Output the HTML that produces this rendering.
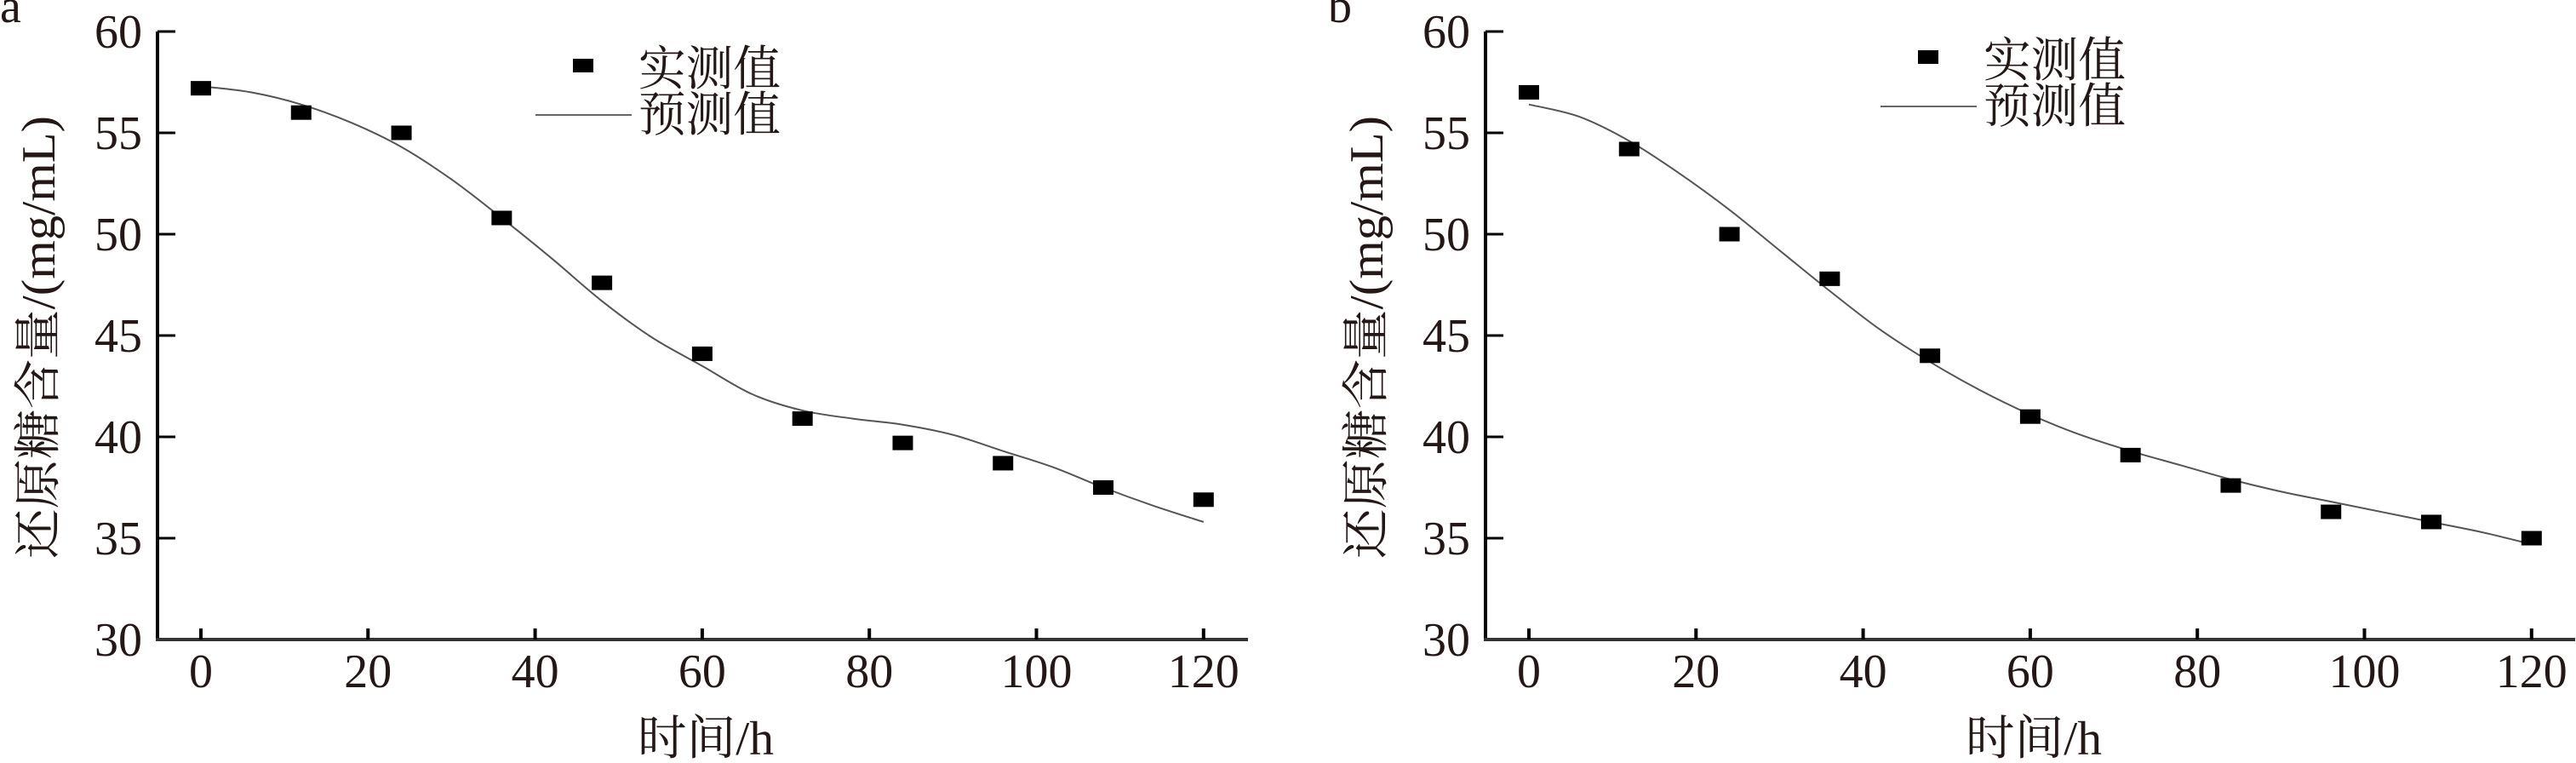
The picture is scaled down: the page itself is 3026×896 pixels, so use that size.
<!DOCTYPE html>
<html><head><meta charset="utf-8"><style>
html,body{margin:0;padding:0;background:#fff;}
svg{display:block;}
text{fill:#231815;}
.t{font-family:"Liberation Serif",serif;font-size:56px;}
.c{font-family:"Liberation Serif","Noto Serif CJK SC",serif;font-size:56px;}
</style></head><body>
<svg id="s" width="3026" height="896" viewBox="0 0 3026 896" xmlns="http://www.w3.org/2000/svg">
<g id="pa">
<text class="t" x="0" y="26" font-size="50">a</text>
<text class="c" transform="translate(64,396) rotate(-90)" text-anchor="middle" textLength="520" lengthAdjust="spacingAndGlyphs">还原糖含量/(mg/mL)</text>
<text class="c" x="829" y="886" text-anchor="middle" textLength="160" lengthAdjust="spacingAndGlyphs">时间/h</text>
<text class="c" x="750" y="100" textLength="167" lengthAdjust="spacingAndGlyphs">实测值</text>
<text class="c" x="750" y="154" textLength="167" lengthAdjust="spacingAndGlyphs">预测值</text>
<rect x="673" y="69" width="24" height="16" fill="#000"/>
<line x1="629" y1="135" x2="742" y2="135" stroke="#666" stroke-width="2"/>
</g>
<g id="pb">
<text class="t" x="1560" y="26" font-size="50">b</text>
<text class="c" transform="translate(1624,396) rotate(-90)" text-anchor="middle" textLength="520" lengthAdjust="spacingAndGlyphs">还原糖含量/(mg/mL)</text>
<text class="c" x="2389" y="886" text-anchor="middle" textLength="160" lengthAdjust="spacingAndGlyphs">时间/h</text>
<text class="c" x="2330" y="90" textLength="167" lengthAdjust="spacingAndGlyphs">实测值</text>
<text class="c" x="2330" y="144" textLength="167" lengthAdjust="spacingAndGlyphs">预测值</text>
<rect x="2253" y="59" width="24" height="16" fill="#000"/>
<line x1="2209" y1="125" x2="2322" y2="125" stroke="#666" stroke-width="2"/>
</g>
</svg>
<script>
var NS="http://www.w3.org/2000/svg",S=document.getElementById('s');
function el(n,a,t){var e=document.createElementNS(NS,n);for(var k in a)e.setAttribute(k,a[k]);if(t)e.textContent=t;S.appendChild(e);return e;}
function panel(ox,endx,data,curve){
 var X=function(v){return ox+236-185+v*196.3/20;},Y=function(v){return 37+(60-v)*23.8;};
 var ax=ox;
 el('line',{x1:ax,y1:37,x2:ax,y2:751,stroke:'#000','stroke-width':4});
 el('line',{x1:ax-2,y1:751,x2:endx,y2:751,stroke:'#333','stroke-width':4});
 for(var v=30;v<=60;v+=5){var y=Y(v);
  if(v>30)el('line',{x1:ax,y1:y,x2:ax+21,y2:y,stroke:'#000','stroke-width':3});
  el('text',{x:ax-18,y:y+19,'text-anchor':'end','class':'t'},String(v));}
 for(var h=0;h<=120;h+=20){var x=X(h);
  el('line',{x1:x,y1:738,x2:x,y2:751,stroke:'#000','stroke-width':4});
  el('text',{x:x,y:807,'text-anchor':'middle','class':'t'},String(h));}
 var p=curve.map(function(c){return [X(c[0]),Y(c[1])];});
 var d='M'+p[0][0]+','+p[0][1];
 for(var i=0;i<p.length-1;i++){var p0=p[i-1]||p[i],p1=p[i],p2=p[i+1],p3=p[i+2]||p2;
  d+=' C'+(p1[0]+(p2[0]-p0[0])/6)+','+(p1[1]+(p2[1]-p0[1])/6)+' '+(p2[0]-(p3[0]-p1[0])/6)+','+(p2[1]-(p3[1]-p1[1])/6)+' '+p2[0]+','+p2[1];}
 el('path',{d:d,fill:'none',stroke:'#555','stroke-width':2});
 data.forEach(function(q,i){el('rect',{x:X(i*12)-12,y:Y(q)-8.5,width:24,height:17,fill:'#000'});});
}
panel(185,1466,[57.2,56.0,55.0,50.8,47.6,44.1,40.9,39.7,38.7,37.5,36.9],
[[0,57.3],[6,57.0],[12,56.4],[18,55.5],[24,54.3],[30,52.7],[36,50.8],[42,48.8],[48,46.7],[54,44.9],[60,43.5],[66,42.1],[72,41.3],[78,40.9],[84,40.6],[90,40.1],[96,39.3],[102,38.5],[108,37.5],[114,36.6],[120,35.8]]);
panel(1745,3025,[57.0,54.2,50.0,47.8,44.0,41.0,39.1,37.6,36.3,35.8,35.0],
[[0,56.4],[6,55.8],[12,54.6],[18,53.0],[24,51.2],[30,49.2],[36,47.2],[42,45.3],[48,43.7],[54,42.3],[60,41.1],[66,40.1],[72,39.3],[78,38.6],[84,37.9],[90,37.3],[96,36.8],[102,36.3],[108,35.8],[114,35.3],[120,34.7]]);
</script>
</body></html>
